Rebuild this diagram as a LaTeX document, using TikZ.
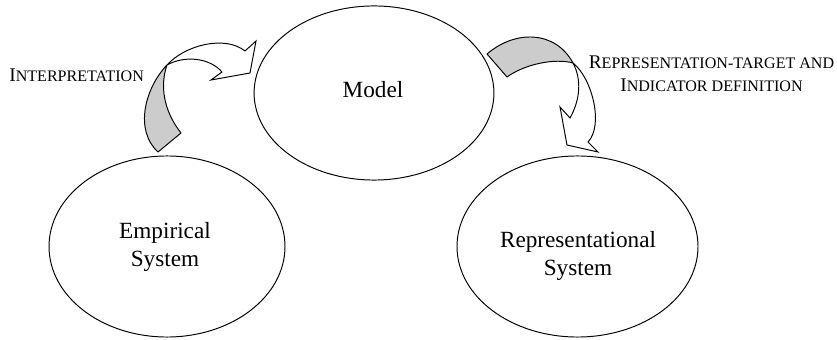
\documentclass[tikz,border=0pt]{standalone}
\usepackage{fontspec}
\setmainfont{Liberation Serif}
\usetikzlibrary{shapes.geometric}
\newcommand{\bigsc}[1]{{\fontsize{10}{12}\selectfont #1}}
\newcommand{\smallsc}[1]{{\fontsize{8.3}{12}\selectfont #1}}

\begin{document}
\begin{tikzpicture}[x=0.517pt, y=-0.517pt,
    system/.style={draw, ellipse, line width=0.5pt, inner sep=0pt},
    systext/.style={align=center, inner sep=0pt, font=\fontsize{12}{14.5}\selectfont},
    back/.style={draw, fill=gray!40, line width=0.5pt, line join=round},
    front/.style={draw, fill=white, line width=0.5pt, line join=miter}]
    \useasboundingbox (0,0) rectangle (837,340);
    \node[system, minimum width=124pt, minimum height=90pt] (model) at (374,93) {};
    \node[system, minimum width=122pt, minimum height=93.6pt] (empirical) at (167,246.5) {};
    \node[system, minimum width=124.6pt, minimum height=93.6pt] (representational) at (577.5,246.5) {};
    \node[systext] (modeltext) at (373,90) {Model};
    \node[systext] (empiricaltext) at (165,247) {Empirical\\System};
    \node[systext] (representationaltext) at (578,256) {Representational\\System};
    \draw[back] (167,65) .. controls (145,88) and (134,130) .. (158,152) -- (181,133)
        .. controls (163,110) and (160,85) .. (167,65) -- cycle;
    \draw[front] (167,65) .. controls (185,45) and (225,35) .. (245,51) -- (256,41) -- (250,73) -- (211,80) -- (222,72)
        .. controls (210,58) and (185,55) .. (167,65) -- cycle;
    \draw[back] (487,54) .. controls (515,30) and (555,30) .. (573,63)
        .. controls (555,58) and (525,64) .. (507,77) -- cycle;
    \draw[front] (573,63) .. controls (592,78) and (604,125) .. (588,142) -- (598,152) -- (567,145) -- (560,107) -- (570,118)
        .. controls (580,100) and (582,80) .. (573,63) -- cycle;
    \node[anchor=base west, inner sep=0pt] (interpretation) at (9,82) {\bigsc{I}\smallsc{NTERPRETATION}};
    \node[align=center, inner sep=0pt] (representationtarget) at (711.5,74) {\bigsc{R}\smallsc{EPRESENTATION-TARGET AND}\\\bigsc{I}\smallsc{NDICATOR DEFINITION}};
\end{tikzpicture}
\end{document}
